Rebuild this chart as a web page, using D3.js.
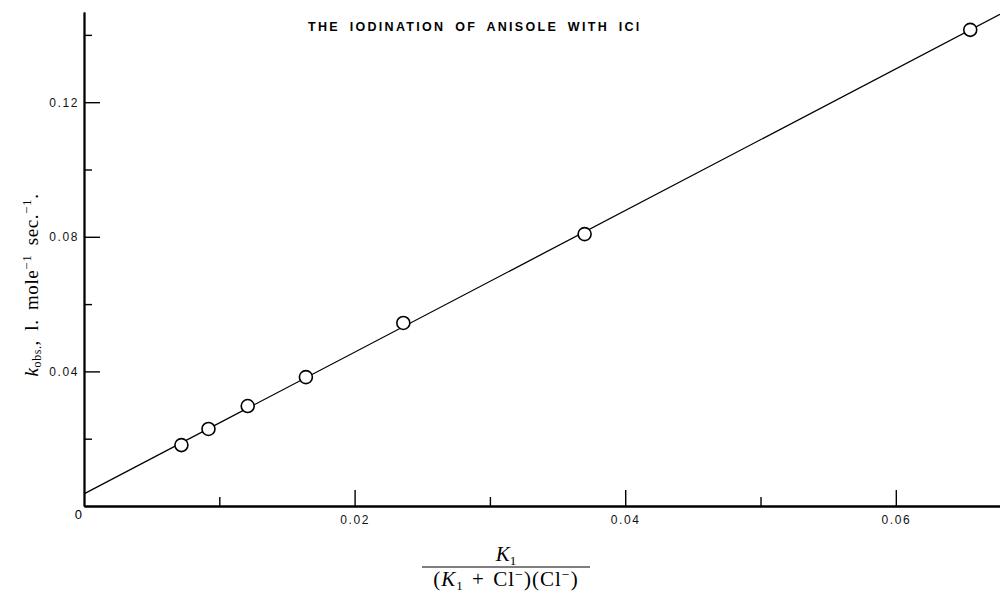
<!DOCTYPE html>
<html>
<head>
<meta charset="utf-8">
<script src="https://cdn.jsdelivr.net/npm/d3@7"></script>
<style>
  body { margin: 0; background: #fff; }
  svg { display: block; }
  .tick text { font-family: "Liberation Sans", "DejaVu Sans", sans-serif; }
</style>
</head>
<body>
<script>
(function (d3) {
  "use strict";

  /***** Data *****/
  var xValues = [0.0072, 0.0092, 0.0121, 0.0164, 0.0236, 0.0370, 0.0655];
  var yValues = [0.0181, 0.0229, 0.0297, 0.0383, 0.0544, 0.0808, 0.1415];
  var fitIntercept = 0.0036;
  var fitSlope = 2.105;

  var xMajorTicks = [0.02, 0.04, 0.06];
  var xMinorTicks = [0.01, 0.03, 0.05];
  var yMajorTicks = [0.04, 0.08, 0.12];
  var yMinorTicks = [0.02, 0.06, 0.10, 0.14];

  var chartTitle = "THE IODINATION OF ANISOLE WITH ICl";

  /***** Configuration *****/
  var width = 1000, height = 592;
  var origin = { x: 84, y: 506 };
  var xMax = 0.0677, yMax = 0.1468;

  /***** Scales *****/
  var xScale = d3.scaleLinear().domain([0, xMax]).range([origin.x, 1000]);
  var yScale = d3.scaleLinear().domain([0, yMax]).range([origin.y, 12]);

  var svg = d3.select("body").append("svg")
      .attr("width", width)
      .attr("height", height);

  /***** Axes *****/
  var tickFmt = d3.format(".2f");

  var xMinor = svg.append("g")
      .attr("transform", "translate(0," + origin.y + ")")
      .call(d3.axisBottom(xScale).tickValues(xMinorTicks).tickSize(-9).tickSizeOuter(0).tickFormat(""));
  var xMajor = svg.append("g")
      .attr("transform", "translate(0," + origin.y + ")")
      .call(d3.axisBottom(xScale).tickValues(xMajorTicks).tickSize(-16).tickSizeOuter(0)
        .tickPadding(9).tickFormat(tickFmt));

  var yMinor = svg.append("g")
      .attr("transform", "translate(" + origin.x + ",0)")
      .call(d3.axisLeft(yScale).tickValues(yMinorTicks).tickSize(-8).tickSizeOuter(0).tickFormat(""));
  var yMajor = svg.append("g")
      .attr("transform", "translate(" + origin.x + ",0)")
      .call(d3.axisLeft(yScale).tickValues(yMajorTicks).tickSize(-16).tickSizeOuter(0)
        .tickPadding(5).tickFormat(tickFmt));

  [xMinor, xMajor, yMinor, yMajor].forEach(function (g) {
    g.selectAll("path.domain").attr("stroke", "#000").attr("stroke-width", 1.8);
    g.selectAll(".tick line").attr("stroke", "#000").attr("stroke-width", 1.4);
    g.selectAll(".tick text")
      .attr("fill", "#111")
      .style("font-size", "12px")
      .style("letter-spacing", "1.6px");
  });

  // origin label
  svg.append("text")
      .attr("x", xScale(0) - 2)
      .attr("y", yScale(0) + 13)
      .attr("text-anchor", "end")
      .style("font-family", "Liberation Sans, sans-serif")
      .style("font-size", "13px")
      .text("0");

  /***** Fitted line *****/
  var fitLine = d3.line()
      .x(function (d) { return xScale(d); })
      .y(function (d) { return yScale(fitIntercept + fitSlope * d); });

  svg.append("path")
      .datum([0, xMax])
      .attr("d", fitLine)
      .attr("fill", "none")
      .attr("stroke", "#000")
      .attr("stroke-width", 1.3);

  /***** Points *****/
  svg.selectAll("circle.pt")
      .data(d3.zip(xValues, yValues))
      .join("circle")
      .attr("class", "pt")
      .attr("cx", function (d) { return xScale(d[0]); })
      .attr("cy", function (d) { return yScale(d[1]); })
      .attr("r", 6.5)
      .attr("fill", "#fff")
      .attr("stroke", "#000")
      .attr("stroke-width", 1.6);

  /***** Title *****/
  svg.append("text")
      .attr("x", 308)
      .attr("y", 31)
      .style("font-family", "Liberation Sans, sans-serif")
      .style("font-size", "12.5px")
      .style("font-weight", "bold")
      .style("letter-spacing", "2.3px")
      .style("word-spacing", "4px")
      .text(chartTitle);

  /***** Y label *****/
  var yLab = svg.append("text")
      .attr("transform", "translate(38,285) rotate(-90)")
      .attr("text-anchor", "middle")
      .style("font-family", "Liberation Serif, DejaVu Serif, serif")
      .style("font-size", "19px")
      .style("letter-spacing", "0.6px")
      .style("word-spacing", "4px");
  yLab.append("tspan").style("font-style", "italic").text("k");
  yLab.append("tspan").attr("dy", 3).style("font-size", "12px").text("obs.");
  yLab.append("tspan").attr("dy", -3).text(", l. mole");
  yLab.append("tspan").attr("dy", -7).style("font-size", "13px").text("\u22121");
  yLab.append("tspan").attr("dy", 7).text(" sec.");
  yLab.append("tspan").attr("dy", -7).style("font-size", "13px").text("\u22121");
  yLab.append("tspan").attr("dy", 7).text(".");

  /***** X label (fraction) *****/
  var fracX = 506;
  var num = svg.append("text")
      .attr("x", fracX)
      .attr("y", 561)
      .attr("text-anchor", "middle")
      .style("font-family", "Liberation Serif, DejaVu Serif, serif")
      .style("font-size", "21px");
  num.append("tspan").style("font-style", "italic").text("K");
  num.append("tspan").attr("dy", 4).style("font-size", "13px").text("1");

  svg.append("line")
      .attr("x1", fracX - 84).attr("x2", fracX + 84)
      .attr("y1", 567).attr("y2", 567)
      .attr("stroke", "#000").attr("stroke-width", 1.1);

  var den = svg.append("text")
      .attr("x", fracX)
      .attr("y", 586)
      .attr("text-anchor", "middle")
      .style("font-family", "Liberation Serif, DejaVu Serif, serif")
      .style("font-size", "21px")
      .style("letter-spacing", "1px")
      .style("word-spacing", "2px");
  den.append("tspan").text("(");
  den.append("tspan").style("font-style", "italic").text("K");
  den.append("tspan").attr("dy", 4).style("font-size", "13px").text("1");
  den.append("tspan").attr("dy", -4).text(" + Cl");
  den.append("tspan").attr("dy", -7).style("font-size", "14px").text("\u2212");
  den.append("tspan").attr("dy", 7).text(")(Cl");
  den.append("tspan").attr("dy", -7).style("font-size", "14px").text("\u2212");
  den.append("tspan").attr("dy", 7).text(")");

})(d3);
</script>
</body>
</html>
